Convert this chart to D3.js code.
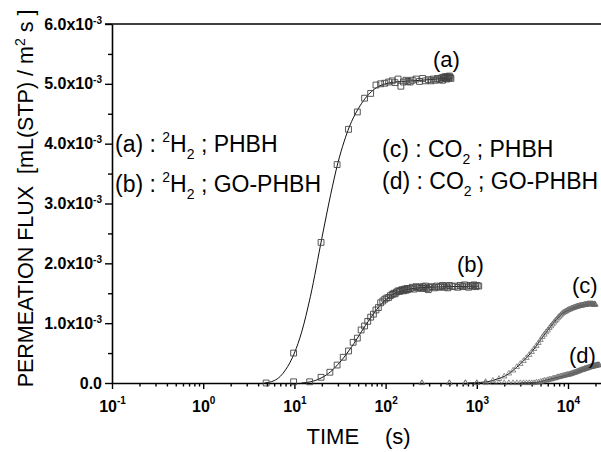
<!DOCTYPE html>
<html>
<head>
<meta charset="utf-8">
<script src="https://cdn.jsdelivr.net/npm/d3@7"></script>
<style>
  body { margin: 0; background: #fff; }
  svg { display: block; }
  text { font-family: "Liberation Sans", Arial, sans-serif; fill: #000; }
</style>
</head>
<body>
<svg id="chart" width="601" height="452"></svg>
<script>
// Permeation flux in units of 1e-3 mL(STP)/(m^2 s); time in seconds.

// (a) 2H2 through PHBH — measured points [time, flux]
const aPoints = [
  [4.9,0.00],[9.8,0.50],[19.6,2.35],[29.4,3.65],[39.2,4.24],[49,4.53],[58.8,4.76],[68.6,4.84],
  [78.4,4.98],[88.2,5.00],[98,5.01],[108,5.03],[118,5.05],[127,5.02],[137,5.08],[147,4.96],
  [157,5.03],[167,5.06],[176,5.04],[186,5.03],[196,5.06],[216,5.08],[235,5.04],[255,5.09],
  [274,5.05],[294,5.07],[314,5.05],[333,5.08],[353,5.06],[372,5.09],[392,5.07],[412,5.10],
  [421,5.06],[431,5.11],[441,5.09],[451,5.12],[461,5.10],[470,5.08],[480,5.12],[490,5.10],
  [500,5.13],[510,5.11],[520,5.09]
];
// (a) fitted curve
const aFit = [
  [4.7,0.00],[6,0.04],[7,0.11],[8,0.22],[9,0.35],[10,0.50],[12,0.85],[15,1.45],[20,2.42],
  [25,3.15],[30,3.68],[35,4.03],[40,4.28],[50,4.58],[60,4.76],[70,4.87],[80,4.94],[100,5.00],
  [150,5.04],[200,5.05],[300,5.07],[520,5.10]
];

// (b) 2H2 through GO-PHBH — measured points
const bPoints = [
  [9.8,0.02],[14.7,0.02],[19.6,0.095],[24.5,0.18],[29.4,0.30],[34.3,0.43],[39.2,0.535],[44.1,0.68],
  [49,0.75],[53.9,0.886],[58.8,0.953],[63.7,1.03],[68.6,1.10],[73.5,1.15],[78.4,1.22],[83.3,1.26],
  [88.2,1.34],[93.1,1.37],[98,1.40],[103,1.42],[108,1.43],[113,1.46],[118,1.48],[123,1.50],
  [127,1.49],[132,1.52],[137,1.54],[142,1.53],[147,1.55],[152,1.56],[157,1.54],[162,1.57],
  [167,1.55],[172,1.58],[176,1.56],[186,1.58],[196,1.60],[206,1.57],[216,1.61],[225,1.59],
  [235,1.60],[245,1.58],[255,1.61],[265,1.59],[274,1.62],[284,1.58],[294,1.56],[304,1.60],
  [323,1.61],[343,1.59],[363,1.62],[382,1.60],[402,1.61],[421,1.63],[441,1.60],[461,1.62],
  [480,1.59],[500,1.63],[539,1.61],[578,1.62],[617,1.60],[657,1.63],[696,1.61],[735,1.64],
  [774,1.62],[813,1.60],[853,1.63],[892,1.62],[931,1.64],[970,1.61],[1010,1.63],[1050,1.62]
];
// (b) fitted curve
const bFit = [
  [12,0.00],[15,0.02],[20,0.09],[25,0.19],[30,0.31],[35,0.43],[40,0.55],[45,0.66],[50,0.77],
  [60,0.96],[70,1.11],[80,1.23],[90,1.32],[100,1.39],[120,1.48],[150,1.54],[200,1.58],
  [300,1.60],[500,1.61],[1050,1.62]
];

// (c) CO2 through PHBH and (d) CO2 through GO-PHBH — sampling times
const cdTimes = [
  250,500,750,1000,1250,1500,1750,2000,2250,2500,2750,3000,3250,3500,3750,4000,4250,4500,4750,5000,
  5250,5500,5750,6000,6250,6500,6750,7000,7250,7500,7750,8000,8250,8500,8750,9000,9250,9500,9750,10000,
  10250,10500,10750,11000,11250,11500,11750,12000,12250,12500,12750,13000,13250,13500,13750,14000,14250,14500,14750,15000,
  15250,15500,15750,16000,16250,16500,16750,17000,17250,17500,17750,18000,18250,18500,18750,19000,19250,19500,19750,20000,
  20250,20500,20750,21000,21250,21500,21750,22000
];
const cFlux = [
  0.00,0.00,0.00,0.00,0.02,0.04,0.07,0.11,0.16,0.21,0.27,0.32,0.37,0.42,0.47,0.52,0.57,0.62,0.67,0.72,
  0.77,0.81,0.85,0.88,0.92,0.95,0.98,1.01,1.04,1.06,1.09,1.11,1.13,1.15,1.17,1.18,1.19,1.20,1.21,1.22,
  1.23,1.23,1.24,1.25,1.25,1.26,1.26,1.27,1.27,1.28,1.28,1.28,1.29,1.29,1.29,1.30,1.30,1.30,1.30,1.31,
  1.31,1.31,1.31,1.31,1.32,1.32,1.32,1.32,1.32,1.32,1.32,1.32,1.32,1.32,1.32,1.31,1.31,1.32,1.31,1.31
];
const dFlux = [
  0.00,0.00,0.00,0.00,0.00,0.00,0.00,0.00,0.00,0.00,0.00,0.00,0.00,0.00,0.00,0.00,0.00,0.01,0.01,0.02,
  0.03,0.04,0.04,0.05,0.06,0.06,0.07,0.08,0.08,0.09,0.10,0.10,0.11,0.11,0.12,0.12,0.13,0.13,0.14,0.14,
  0.14,0.15,0.15,0.16,0.16,0.17,0.17,0.18,0.18,0.19,0.19,0.20,0.20,0.21,0.21,0.22,0.22,0.22,0.23,0.23,
  0.24,0.24,0.24,0.25,0.25,0.25,0.26,0.26,0.26,0.27,0.27,0.27,0.27,0.28,0.28,0.28,0.28,0.29,0.29,0.29,
  0.29,0.29,0.30,0.30,0.30,0.30,0.30,0.30
];
// (c) and (d) fitted curves
const cFit = [
  [800,0.00],[1100,0.01],[1400,0.03],[1700,0.07],[2000,0.11],[2500,0.21],[3000,0.32],[3500,0.42],
  [4000,0.52],[4500,0.62],[5000,0.72],[6000,0.88],[7000,1.01],[8000,1.11],[9000,1.18],[10000,1.22],
  [12000,1.27],[14000,1.30],[17000,1.32],[20000,1.32]
];
const dFit = [
  [3000,0.00],[4500,0.01],[5500,0.04],[7000,0.08],[9000,0.12],[11000,0.16],[13000,0.20],
  [15000,0.23],[17000,0.26],[20000,0.29],[22000,0.30]
];

// Axis ticks and labels
const xTickValues = [0.1, 1, 10, 100, 1000, 10000];
const xTickExponents = ["-1", "0", "1", "2", "3", "4"];
const yTickValues = [0, 1, 2, 3, 4, 5, 6];
const yTickMantissas = ["0.0", "1.0", "2.0", "3.0", "4.0", "5.0", "6.0"];
const yMinorTicks = [0.5, 1.5, 2.5, 3.5, 4.5, 5.5];
const curveLabels = ["(a)", "(b)", "(c)", "(d)"];

(function draw() {
  const svg = d3.select("#chart");

  const plotLeft = 112, plotTop = 24, plotBottom = 383, decadePx = 91.2;
  const xMin = 0.1, xMax = 25000;
  const x = d3.scaleLog().domain([xMin, xMax])
    .range([plotLeft, plotLeft + decadePx * Math.log10(xMax / xMin)]);
  const y = d3.scaleLinear().domain([0, 6]).range([plotBottom, plotTop]);

  // top frame line
  svg.append("line")
    .attr("x1", plotLeft - 7).attr("x2", 601).attr("y1", plotTop).attr("y2", plotTop)
    .attr("stroke", "#000").attr("stroke-width", 1.6);

  // y axis — major ticks with labels
  const yAxis = svg.append("g").attr("transform", `translate(${plotLeft},0)`)
    .call(d3.axisLeft(y).tickValues(yTickValues).tickSize(7).tickSizeOuter(0).tickPadding(3));
  yAxis.select(".domain").attr("stroke-width", 1.6);
  yAxis.selectAll(".tick line").attr("stroke-width", 1.4);
  yAxis.selectAll(".tick text").each(function(d, i) {
    const t = d3.select(this).text(null)
      .attr("dy", null).attr("y", 5)
      .style("font-size", "16px").style("font-weight", "bold");
    if (d === 0) {
      t.append("tspan").text(yTickMantissas[i]);
    } else {
      t.append("tspan").text(yTickMantissas[i] + "x10");
      t.append("tspan").text("-3").attr("dy", -6).style("font-size", "10px");
    }
  });
  // y axis — minor ticks
  const yMinor = svg.append("g").attr("transform", `translate(${plotLeft},0)`)
    .call(d3.axisLeft(y).tickValues(yMinorTicks).tickSize(4).tickSizeOuter(0).tickFormat(""));
  yMinor.select(".domain").remove();
  yMinor.selectAll(".tick line").attr("stroke-width", 1.4);

  // x axis — major ticks with labels
  const xAxis = svg.append("g").attr("transform", `translate(0,${plotBottom})`)
    .call(d3.axisBottom(x).tickValues(xTickValues).tickSize(6).tickSizeOuter(0));
  xAxis.select(".domain").attr("stroke-width", 1.6);
  xAxis.selectAll(".tick line").attr("stroke-width", 1.4);
  xAxis.selectAll(".tick text").each(function(d, i) {
    const t = d3.select(this).text(null)
      .attr("dy", null).attr("y", 28.7)
      .style("font-size", "16px").style("font-weight", "bold");
    t.append("tspan").text("10");
    t.append("tspan").text(xTickExponents[i]).attr("dy", -8).style("font-size", "10px");
  });
  // x axis — minor ticks
  const xMinorValues = x.ticks().filter(v => Math.abs(Math.log10(v) - Math.round(Math.log10(v))) > 1e-6);
  const xMinor = svg.append("g").attr("transform", `translate(0,${plotBottom})`)
    .call(d3.axisBottom(x).tickValues(xMinorValues).tickSize(3.5).tickSizeOuter(0).tickFormat(""));
  xMinor.select(".domain").remove();
  xMinor.selectAll(".tick line").attr("stroke-width", 1.4);

  // axis titles
  svg.append("text")
    .attr("x", 306.5).attr("y", 444)
    .style("font-size", "22px")
    .call(t => {
      t.append("tspan").text("TIME");
      t.append("tspan").attr("x", 385).text("(s)");
    });

  const yTitle = svg.append("text")
    .attr("transform", "translate(33,198.5) rotate(-90)")
    .attr("text-anchor", "middle")
    .style("font-size", "21.5px")
    .style("white-space", "pre");
  yTitle.append("tspan").text("PERMEATION FLUX  [mL(STP) / m");
  yTitle.append("tspan").text("2").attr("dy", -8).style("font-size", "14px");
  yTitle.append("tspan").text(" s ]").attr("dy", 8);

  // fitted curves
  const line = d3.line()
    .x(d => x(d[0])).y(d => y(d[1]))
    .curve(d3.curveMonotoneX);
  [aFit, bFit, cFit, dFit].forEach(f => {
    svg.append("path").datum(f)
      .attr("d", line)
      .attr("fill", "none").attr("stroke", "#111").attr("stroke-width", 1);
  });

  // square markers for (a) and (b)
  const square = d3.symbol().type(d3.symbolSquare).size(34)();
  [aPoints, bPoints].forEach(pts => {
    svg.append("g").selectAll("path").data(pts).join("path")
      .attr("d", square)
      .attr("transform", d => `translate(${x(d[0])},${y(d[1])})`)
      .attr("fill", "none").attr("stroke", "#444").attr("stroke-width", 0.9);
  });

  // triangle markers for (c) and (d)
  const tri = d3.symbol().type(d3.symbolTriangle).size(13)();
  const cPoints = cFlux.map((v, i) => [cdTimes[i], v]);
  const dPoints = dFlux.map((v, i) => [cdTimes[i], v]);
  [cPoints, dPoints].forEach(pts => {
    svg.append("g").selectAll("path").data(pts).join("path")
      .attr("d", tri)
      .attr("transform", d => `translate(${x(d[0])},${y(d[1])})`)
      .attr("fill", "none").attr("stroke", "#666").attr("stroke-width", 0.7);
  });

  // curve labels
  const labelPos = [[433, 67], [457, 272], [572, 293], [569, 363]];
  curveLabels.forEach((lab, i) => {
    svg.append("text").attr("x", labelPos[i][0]).attr("y", labelPos[i][1])
      .style("font-size", "22px").text(lab);
  });

  // annotations with super/subscripts
  function annotate(px, py, prefix, sup, base, rest) {
    const t = svg.append("text").attr("x", px).attr("y", py)
      .style("font-size", "23px").style("white-space", "pre");
    t.append("tspan").text(prefix);
    if (sup) t.append("tspan").text(sup).attr("dy", -10).style("font-size", "14px");
    t.append("tspan").text(base).attr("dy", sup ? 10 : 0);
    t.append("tspan").text("2").attr("dy", 7).style("font-size", "14px");
    t.append("tspan").text(rest).attr("dy", -7);
  }
  annotate(115, 152, "(a) : ", "2", "H", " ; PHBH");
  annotate(115, 192, "(b) : ", "2", "H", " ; GO-PHBH");
  annotate(382, 157, "(c) : ", null, "CO", " ; PHBH");
  annotate(382, 189, "(d) : ", null, "CO", " ; GO-PHBH");
})();
</script>
</body>
</html>
